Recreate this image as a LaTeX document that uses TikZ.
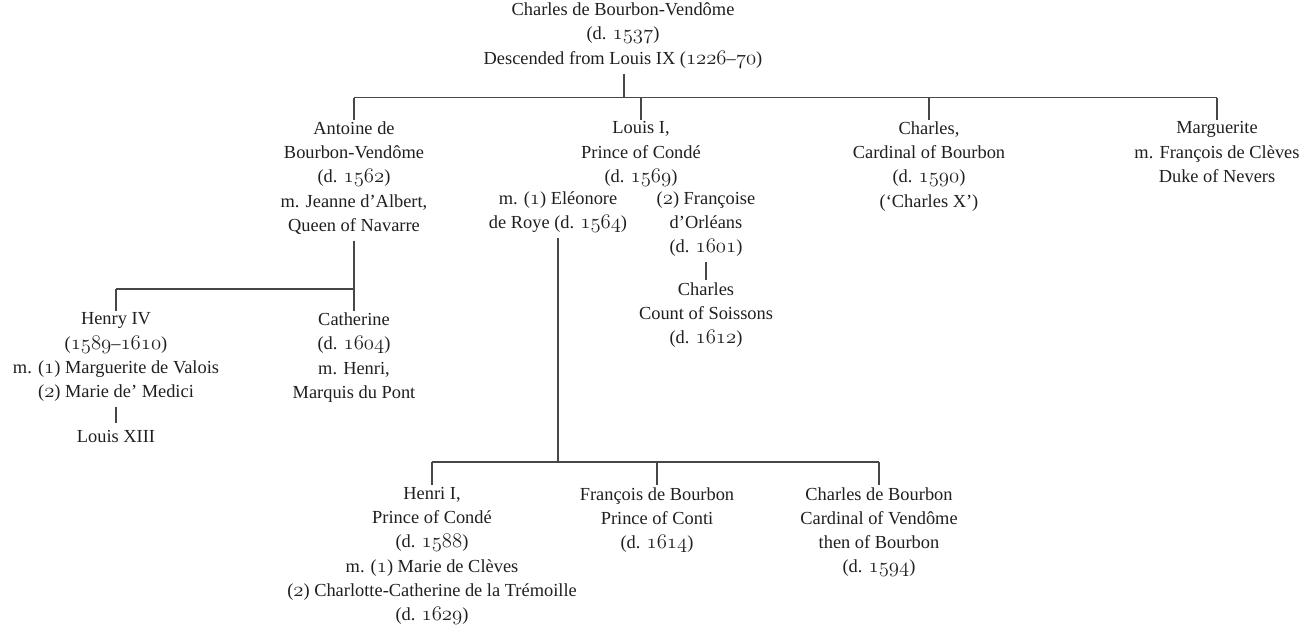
\documentclass[tikz,border=0pt]{standalone}
\usepackage{fontspec}
\setmainfont{Liberation Serif}
\newcommand{\os}[1]{{\fontsize{20.4}{24.2}\usefont{OML}{lmm}{m}{it}#1}}
\tikzset{
  person/.style={align=center, inner xsep=2pt, inner ysep=2pt, anchor=north,
    font=\fontsize{18.4}{24.2}\selectfont, text=black!88,
    execute at begin node=\strut, execute at end node={\rule[-3pt]{0pt}{3pt}}},
  link/.style={draw=black!72, line width=1.1pt}
}
\begin{document}
\begin{tikzpicture}[x=1pt,y=-1pt]
\useasboundingbox (0,0) rectangle (1306,629);
% nodes
\node[person] (top) at (623,0.7) {Charles de Bourbon-Vendôme\\(d. \os{1537})\\Descended from Louis IX (\os{1226}–\os{70})};
\node[person] (antoine) at (354,119.5) {Antoine de\\Bourbon-Vendôme\\(d. \os{1562})\\m. Jeanne d’Albert,\\Queen of Navarre};
\node[person] (louis) at (641,119.5) {Louis I,\\Prince of Condé\\(d. \os{1569})};
\node[person] (charles) at (929,119.5) {Charles,\\Cardinal of Bourbon\\(d. \os{1590})\\(‘Charles X’)};
\node[person] (marguerite) at (1217,119.5) {Marguerite\\m. François de Clèves\\Duke of Nevers};
\node[person] (eleonore) at (558,189.2) {m. (\os{1}) Eléonore\\de Roye (d. \os{1564})};
\node[person] (francoise) at (706,189.2) {(\os{2}) Françoise\\d’Orléans\\(d. \os{1601})};
\node[person] (soissons) at (706,280.2) {Charles\\Count of Soissons\\(d. \os{1612})};
\node[person] (henry) at (116,310.7) {Henry IV\\(\os{1589}–\os{1610})\\m. (\os{1}) Marguerite de Valois\\(\os{2}) Marie de’ Medici};
\node[person] (catherine) at (354,310.7) {Catherine\\(d. \os{1604})\\m. Henri,\\Marquis du Pont};
\node[person] (louis13) at (116,423.2) {Louis XIII};
\node[person] (henri) at (432,485.2) {Henri I,\\Prince of Condé\\(d. \os{1588})\\m. (\os{1}) Marie de Clèves\\(\os{2}) Charlotte-Catherine de la Trémoille\\(d. \os{1629})};
\node[person] (francois) at (657,485.2) {François de Bourbon\\Prince of Conti\\(d. \os{1614})};
\node[person] (charlesb) at (879,485.2) {Charles de Bourbon\\Cardinal of Vendôme\\then of Bourbon\\(d. \os{1594})};
% junction coordinates
\coordinate (b1) at (624,97.5);
\coordinate (b2) at (0,289);
\coordinate (b3) at (0,462);
% connectors
\draw[link] (top.south -| b1) -- (b1);
\draw[link] (antoine.north |- b1) -- (marguerite.north |- b1);
\draw[link] (antoine.north |- b1) -- (antoine.north);
\draw[link] (louis.north |- b1) -- (louis.north);
\draw[link] (charles.north |- b1) -- (charles.north);
\draw[link] (marguerite.north |- b1) -- (marguerite.north);
\draw[link] (antoine.south) -- (catherine.north);
\draw[link] (henry.north |- b2) -- (catherine.north |- b2);
\draw[link] (henry.north |- b2) -- (henry.north);
\draw[link] (henry.south) -- (louis13.north);
\draw[link] (francoise.south) -- (soissons.north);
\draw[link] (eleonore.south) -- (eleonore.south |- b3);
\draw[link] (henri.north |- b3) -- (charlesb.north |- b3);
\draw[link] (henri.north |- b3) -- (henri.north);
\draw[link] (francois.north |- b3) -- (francois.north);
\draw[link] (charlesb.north |- b3) -- (charlesb.north);
\end{tikzpicture}
\end{document}
